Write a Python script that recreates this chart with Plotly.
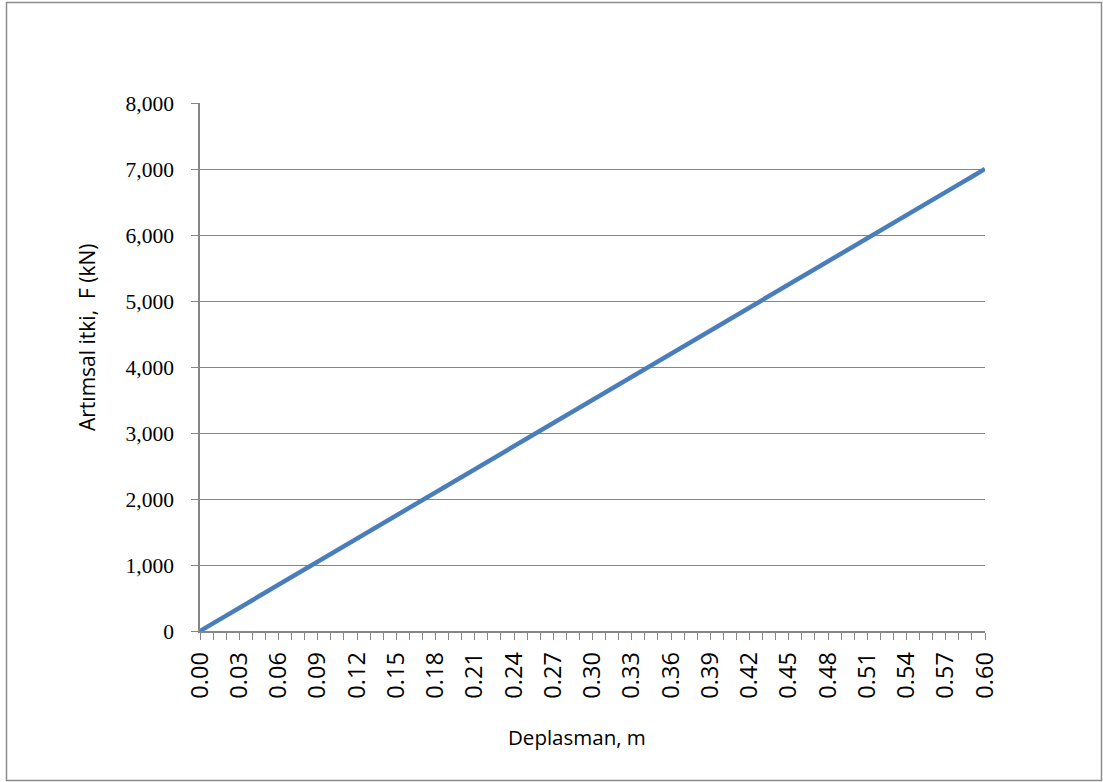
import plotly.graph_objects as go

# Displacement (m) and incremental thrust (kN)
deplasman = [
    0.00, 0.01, 0.02, 0.03, 0.04, 0.05, 0.06, 0.07, 0.08, 0.09,
    0.10, 0.11, 0.12, 0.13, 0.14, 0.15, 0.16, 0.17, 0.18, 0.19,
    0.20, 0.21, 0.22, 0.23, 0.24, 0.25, 0.26, 0.27, 0.28, 0.29,
    0.30, 0.31, 0.32, 0.33, 0.34, 0.35, 0.36, 0.37, 0.38, 0.39,
    0.40, 0.41, 0.42, 0.43, 0.44, 0.45, 0.46, 0.47, 0.48, 0.49,
    0.50, 0.51, 0.52, 0.53, 0.54, 0.55, 0.56, 0.57, 0.58, 0.59,
    0.60,
]
itki = [
    0, 117, 233, 350, 467, 583, 700, 817, 933, 1050,
    1167, 1283, 1400, 1517, 1633, 1750, 1867, 1983, 2100, 2217,
    2333, 2450, 2567, 2683, 2800, 2917, 3033, 3150, 3267, 3383,
    3500, 3617, 3733, 3850, 3967, 4083, 4200, 4317, 4433, 4550,
    4667, 4783, 4900, 5017, 5133, 5250, 5367, 5483, 5600, 5717,
    5833, 5950, 6067, 6183, 6300, 6417, 6533, 6650, 6767, 6883,
    7000,
]

x_title = "Deplasman, m"
y_title = "Artımsal itki,  F (kN)"

W, H = 1103, 782
L, R, T, B = 200, 118, 103, 151
GRAY = "#868686"

fig = go.Figure(
    go.Scatter(
        x=deplasman, y=itki, mode="lines",
        line=dict(color="#4A7EBB", width=4.5),
        hoverinfo="x+y",
    )
)

fig.update_layout(
    width=W, height=H,
    margin=dict(l=L, r=R, t=T, b=B, pad=0),
    paper_bgcolor="white", plot_bgcolor="white",
    showlegend=False,
)

fig.update_xaxes(
    range=[0, 0.60], tick0=0, dtick=0.03, tickformat=".2f",
    tickangle=-90, ticks="outside", ticklen=7, tickcolor=GRAY,
    showline=True, linecolor=GRAY, linewidth=1.5,
    showgrid=False, zeroline=False,
    tickfont=dict(family="Open Sans", size=23.5, color="black"),
    ticklabelstandoff=3,
    minor=dict(dtick=0.01, ticks="outside", ticklen=7, tickcolor=GRAY, showgrid=False),
)

fig.update_yaxes(
    range=[0, 8000], tick0=0, dtick=1000, tickformat=",",
    ticks="outside", ticklen=7, tickcolor=GRAY,
    showline=True, linecolor=GRAY, linewidth=1.5,
    showgrid=True, gridcolor=GRAY, gridwidth=1.2, zeroline=False,
    tickfont=dict(family="Liberation Serif", size=21.5, color="black"),
    ticklabelstandoff=13,
)

def px(xp):
    return (xp - L) / (W - L - R)

def py(yp):
    return (H - B - yp) / (H - T - B)

# Chart frame
fig.add_shape(
    type="rect", xref="paper", yref="paper",
    x0=px(6.5), x1=px(1101.5), y0=py(780.5), y1=py(2.5),
    line=dict(color="#8c8c8c", width=1.5), layer="below",
)

fig.add_annotation(
    text=x_title, xref="paper", yref="paper", x=px(577), y=py(737),
    showarrow=False, font=dict(family="Open Sans", size=20.5, color="black"),
    xanchor="center", yanchor="middle",
)
fig.add_annotation(
    text=y_title, xref="paper", yref="paper", x=px(87), y=py(337),
    showarrow=False, textangle=-90,
    font=dict(family="Open Sans", size=21, color="black"),
    xanchor="center", yanchor="middle",
)

fig.write_html("out.html")
